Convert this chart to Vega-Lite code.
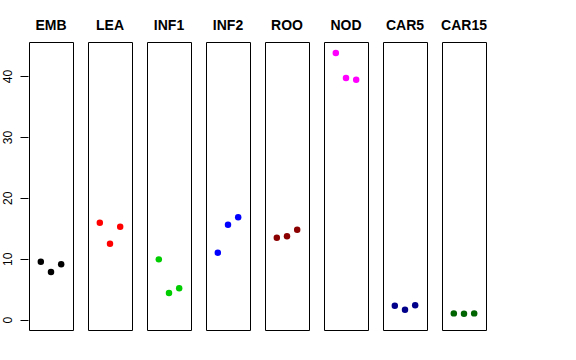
{
  "$schema": "https://vega.github.io/schema/vega-lite/v6.json",
  "background": "white",
  "padding": {"left": 1, "top": 19, "right": 5, "bottom": 5},
  "data": {"values": [
    {"group": "EMB", "x": 1, "y": 9.52}, {"group": "EMB", "x": 2, "y": 7.82}, {"group": "EMB", "x": 3, "y": 9.08},
    {"group": "LEA", "x": 1, "y": 15.93}, {"group": "LEA", "x": 2, "y": 12.48}, {"group": "LEA", "x": 3, "y": 15.27},
    {"group": "INF1", "x": 1, "y": 9.9}, {"group": "INF1", "x": 2, "y": 4.37}, {"group": "INF1", "x": 3, "y": 5.14},
    {"group": "INF2", "x": 1, "y": 11.0}, {"group": "INF2", "x": 2, "y": 15.6}, {"group": "INF2", "x": 3, "y": 16.8},
    {"group": "ROO", "x": 1, "y": 13.46}, {"group": "ROO", "x": 2, "y": 13.68}, {"group": "ROO", "x": 3, "y": 14.78},
    {"group": "NOD", "x": 1, "y": 43.78}, {"group": "NOD", "x": 2, "y": 39.67}, {"group": "NOD", "x": 3, "y": 39.41},
    {"group": "CAR5", "x": 1, "y": 2.3}, {"group": "CAR5", "x": 2, "y": 1.64}, {"group": "CAR5", "x": 3, "y": 2.35},
    {"group": "CAR15", "x": 1, "y": 1.03}, {"group": "CAR15", "x": 2, "y": 0.98}, {"group": "CAR15", "x": 3, "y": 1.03}
  ]},
  "facet": {
    "column": {
      "field": "group",
      "type": "nominal",
      "sort": ["EMB", "LEA", "INF1", "INF2", "ROO", "NOD", "CAR5", "CAR15"],
      "header": {"title": null, "labelFontSize": 14, "labelFontWeight": "bold", "labelFont": "Liberation Sans", "labelColor": "black", "labelPadding": 8}
    }
  },
  "spacing": 13,
  "spec": {
    "width": 44,
    "height": 288,
    "mark": {"type": "circle", "size": 42, "opacity": 1},
    "encoding": {
      "x": {"field": "x", "type": "quantitative", "scale": {"domain": [-0.16, 4.16], "nice": false, "zero": false}, "axis": null},
      "y": {"field": "y", "type": "quantitative", "scale": {"domain": [-1.7, 45.6], "nice": false, "zero": false},
        "axis": {"title": null, "values": [0, 10, 20, 30, 40], "grid": false, "domain": false, "tickSize": 8, "tickColor": "black", "labelAngle": -90, "labelAlign": "center", "labelBaseline": "bottom", "labelPadding": 6, "labelFontSize": 12, "labelFont": "Liberation Sans", "labelColor": "black"}},
      "color": {"field": "group", "type": "nominal", "legend": null,
        "scale": {"domain": ["EMB", "LEA", "INF1", "INF2", "ROO", "NOD", "CAR5", "CAR15"],
                  "range": ["#000000", "#FF0000", "#00CD00", "#0000FF", "#8B0000", "#FF00FF", "#00008B", "#006400"]}}
    }
  },
  "config": {"view": {"stroke": "black", "strokeWidth": 1}}
}
